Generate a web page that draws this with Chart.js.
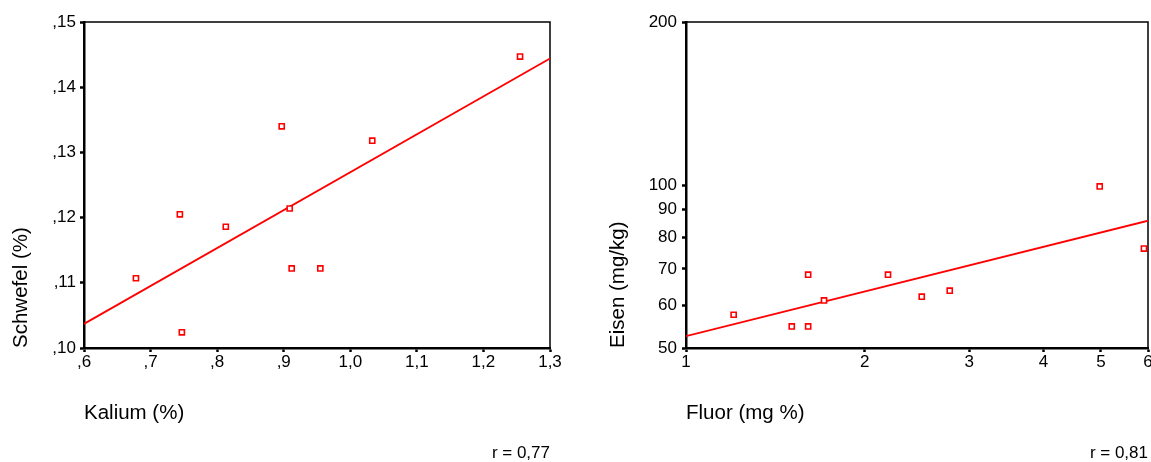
<!DOCTYPE html>
<html>
<head>
<meta charset="utf-8">
<script src="https://cdn.jsdelivr.net/npm/chart.js@4/dist/chart.umd.min.js"></script>
<style>
  html, body { margin: 0; padding: 0; background: #fff; overflow: hidden; }
  #wrap { position: relative; width: 1151px; height: 462px; overflow: hidden; }
  canvas { position: absolute; top: 0; }
  #left { left: 0; }
  #right { left: 575px; }
</style>
</head>
<body>
<div id="wrap">
  <canvas id="left" width="575" height="462"></canvas>
  <canvas id="right" width="584" height="462"></canvas>
</div>
<script>
// left panel: Kalium vs Schwefel
const kalium   = [0.678, 0.744, 0.747, 0.813, 0.897, 0.909, 0.912, 0.955, 1.033, 1.255];
const schwefel = [0.1107, 0.1205, 0.1024, 0.1186, 0.1340, 0.1214, 0.1122, 0.1122, 0.1318, 0.1447];
const fitKaliumX = [0.6, 1.3];
const fitKaliumY = [0.1037, 0.1444];
const kaliumTicks = [0.6, 0.7, 0.8, 0.9, 1.0, 1.1, 1.2, 1.3];
const kaliumTickLabels = [",6", ",7", ",8", ",9", "1,0", "1,1", "1,2", "1,3"];
const schwefelTicks = [0.10, 0.11, 0.12, 0.13, 0.14, 0.15];
const schwefelTickLabels = [",10", ",11", ",12", ",13", ",14", ",15"];

// right panel: Fluor vs Eisen (log-log)
const fluor = [1.203, 1.507, 1.606, 1.606, 1.708, 2.189, 2.495, 2.781, 4.975, 5.906];
const eisen = [57.6, 54.8, 54.8, 68.3, 61.2, 68.3, 62.2, 63.8, 99.4, 76.3];
const fitFluorX = [1, 6];
const fitFluorY = [52.6, 85.9];
const fluorTicks = [1, 2, 3, 4, 5, 6];
const fluorTickLabels = ["1", "2", "3", "4", "5", "6"];
const eisenTicks = [50, 60, 70, 80, 90, 100, 200];
const eisenTickLabels = ["50", "60", "70", "80", "90", "100", "200"];

Chart.defaults.font.family = "'Liberation Sans', Arial, sans-serif";
Chart.defaults.color = "#000";

const RED = "#ff0000";

// thin top and right frame lines
const framePlugin = {
    id: "frame",
    beforeDatasetsDraw(chart) {
        const a = chart.chartArea;
        const ctx = chart.ctx;
        ctx.save();
        ctx.strokeStyle = "#000";
        ctx.lineWidth = 1.5;
        ctx.beginPath();
        ctx.moveTo(a.left, a.top);
        ctx.lineTo(a.right, a.top);
        ctx.lineTo(a.right, a.bottom);
        ctx.stroke();
        ctx.restore();
    }
};

function makeChart(id, cfg) {
    const xs = cfg.x, ys = cfg.y;
    const points = xs.map((v, i) => ({ x: v, y: ys[i] }));
    const fit = cfg.fitX.map((v, i) => ({ x: v, y: cfg.fitY[i] }));

    return new Chart(document.getElementById(id), {
        type: "scatter",
        data: {
            datasets: [{
                data: points,
                pointStyle: "rect",
                pointRadius: 3.6,
                pointBorderWidth: 1.6,
                pointBorderColor: RED,
                pointBackgroundColor: "#fff"
            }, {
                type: "line",
                data: fit,
                borderColor: RED,
                borderWidth: 1.8,
                pointRadius: 0,
                fill: false
            }]
        },
        options: {
            responsive: false,
            animation: false,
            devicePixelRatio: 1,
            layout: { padding: { top: 22, right: cfg.padRight, left: 0, bottom: 0 } },
            plugins: {
                legend: { display: false },
                tooltip: { enabled: false },
                title: {
                    display: true,
                    position: "bottom",
                    align: "end",
                    text: cfg.r,
                    font: { size: 17, weight: "normal", lineHeight: 1 },
                    padding: 0,
                    color: "#000"
                }
            },
            scales: {
                x: {
                    type: cfg.log ? "logarithmic" : "linear",
                    min: cfg.xTicks[0],
                    max: cfg.xTicks[cfg.xTicks.length - 1],
                    afterBuildTicks: s => { s.ticks = cfg.xTicks.map(v => ({ value: v })); },
                    afterFit: s => { s.height = 97; s.paddingLeft = 0; s.paddingRight = 0; },
                    ticks: {
                        autoSkip: false,
                        maxRotation: 0,
                        padding: 0,
                        font: { size: 17 },
                        callback: (v, i) => cfg.xLabels[i]
                    },
                    grid: { drawOnChartArea: false, drawTicks: true, tickLength: 4, tickWidth: 2.5, tickColor: "#000" },
                    border: { display: true, color: "#000", width: 2.5 },
                    title: {
                        display: true,
                        text: cfg.xTitle,
                        align: "start",
                        font: { size: 20.5 },
                        padding: { top: 0, bottom: 19 }
                    }
                },
                y: {
                    type: cfg.log ? "logarithmic" : "linear",
                    min: cfg.yTicks[0],
                    max: cfg.yTicks[cfg.yTicks.length - 1],
                    afterBuildTicks: s => { s.ticks = cfg.yTicks.map(v => ({ value: v })); },
                    afterFit: s => { s.width = cfg.yWidth; s.paddingTop = 0; s.paddingBottom = 0; },
                    ticks: {
                        autoSkip: false,
                        padding: cfg.yPad,
                        font: { size: 17 },
                        callback: (v, i) => cfg.yLabels[i]
                    },
                    grid: { drawOnChartArea: false, drawTicks: true, tickLength: 4, tickWidth: 2.5, tickColor: "#000" },
                    border: { display: true, color: "#000", width: 2.5 },
                    title: {
                        display: true,
                        text: cfg.yTitle,
                        align: "start",
                        font: { size: 20.5 },
                        padding: { top: cfg.yTitlePad, bottom: 0 }
                    }
                }
            }
        },
        plugins: [framePlugin]
    });
}

makeChart("left", {
    x: kalium, y: schwefel,
    fitX: fitKaliumX, fitY: fitKaliumY,
    xTicks: kaliumTicks, xLabels: kaliumTickLabels,
    yTicks: schwefelTicks, yLabels: schwefelTickLabels,
    xTitle: "Kalium (%)", yTitle: "Schwefel (%)",
    r: "r = 0,77",
    log: false,
    padRight: 25, yWidth: 84, yPad: 4, yTitlePad: 9
});

makeChart("right", {
    x: fluor, y: eisen,
    fitX: fitFluorX, fitY: fitFluorY,
    xTicks: fluorTicks, xLabels: fluorTickLabels,
    yTicks: eisenTicks, yLabels: eisenTickLabels,
    xTitle: "Fluor (mg %)", yTitle: "Eisen (mg/kg)",
    r: "r = 0,81",
    log: true,
    padRight: 11, yWidth: 111, yPad: 5, yTitlePad: 31
});
</script>
</body>
</html>
